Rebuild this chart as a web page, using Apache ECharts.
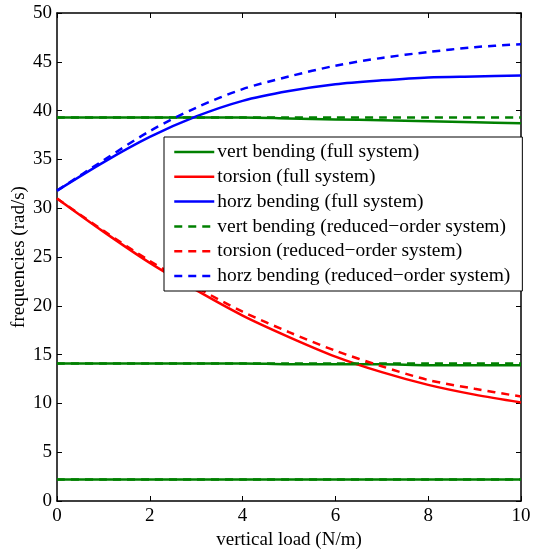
<!DOCTYPE html>
<html>
<head>
<meta charset="utf-8">
<script src="https://cdn.jsdelivr.net/npm/echarts@6/dist/echarts.min.js"></script>
<style>
html, body { margin: 0; padding: 0; background: #fff; }
#chart { width: 533px; height: 552px; }
</style>
</head>
<body>
<div id="chart"></div>
<script>
// vertical load (N/m)
var load = [0, 1, 2, 3, 4, 5, 6, 7, 8, 9, 10];

// full system
var vert1_full = [39.3, 39.3, 39.3, 39.3, 39.3, 39.2, 39.1, 39.0, 38.9, 38.8, 38.7];
var vert2_full = [14.1, 14.1, 14.1, 14.1, 14.1, 14.0, 14.0, 14.0, 13.9, 13.9, 13.9];
var vert3_full = [2.2, 2.2, 2.2, 2.2, 2.2, 2.2, 2.2, 2.2, 2.2, 2.2, 2.2];
var torsion_full = [31.0, 27.6, 24.4, 21.6, 19.0, 16.8, 14.8, 13.2, 11.9, 10.9, 10.1];
var horz_full = [31.8, 34.7, 37.3, 39.4, 41.0, 42.0, 42.7, 43.1, 43.4, 43.5, 43.6];

// reduced-order system
var vert1_red = [39.3, 39.3, 39.3, 39.3, 39.3, 39.3, 39.3, 39.3, 39.3, 39.3, 39.3];
var vert2_red = [14.1, 14.1, 14.1, 14.1, 14.1, 14.1, 14.1, 14.1, 14.1, 14.1, 14.1];
var vert3_red = [2.2, 2.2, 2.2, 2.2, 2.2, 2.2, 2.2, 2.2, 2.2, 2.2, 2.2];
var torsion_red = [31.0, 27.7, 24.6, 21.9, 19.4, 17.3, 15.4, 13.8, 12.4, 11.5, 10.7];
var horz_red = [31.8, 34.9, 37.9, 40.3, 42.2, 43.5, 44.6, 45.4, 46.0, 46.5, 46.8];

var names = [
    'vert bending (full system)',
    'torsion (full system)',
    'horz bending (full system)',
    'vert bending (reduced\u2212order system)',
    'torsion (reduced\u2212order system)',
    'horz bending (reduced\u2212order system)'
];

var font = 'Liberation Serif';
var fsize = 19;

function pairs(ys) {
    var out = [];
    for (var i = 0; i < load.length; i++) {
        out.push([load[i], ys[i]]);
    }
    return out;
}

function line(name, ys, color, dashed) {
    return {
        name: name,
        type: 'line',
        data: pairs(ys),
        smooth: 0.3,
        showSymbol: false,
        symbol: 'none',
        animation: false,
        lineStyle: { color: color, width: 2.5, type: dashed ? [8, 6] : 'solid' },
        itemStyle: { color: color }
    };
}

var chart = echarts.init(document.getElementById('chart'));

var axisCommon = {
    type: 'value',
    axisLine: { show: true, onZero: false, lineStyle: { color: '#000', width: 1.5 } },
    axisTick: { show: true, inside: true, length: 5, lineStyle: { color: '#000' } },
    splitLine: { show: false }
};

var option = {
    backgroundColor: '#fff',
    animation: false,
    grid: { left: 57, right: 12, top: 13, bottom: 51, containLabel: false, outerBoundsMode: 'none' },
    legend: {
        data: names,
        orient: 'vertical',
        left: 164,
        top: 137,
        padding: [5, 12, 5, 9],
        itemGap: 4.8,
        itemWidth: 40,
        itemHeight: 19,
        itemStyle: { opacity: 0 },
        lineStyle: { width: 2.5 },
        backgroundColor: '#fff',
        borderColor: '#000',
        borderWidth: 1,
        borderRadius: 0,
        selectedMode: false,
        textStyle: { fontFamily: font, fontSize: 19.5, color: '#000', padding: [0, 0, 0, -2] }
    },
    xAxis: [
        Object.assign({}, axisCommon, {
            min: 0, max: 10, interval: 2,
            position: 'bottom',
            name: 'vertical load (N/m)',
            nameLocation: 'middle',
            nameGap: 30,
            nameMoveOverlap: false,
            nameTextStyle: { fontFamily: font, fontSize: fsize, color: '#000' },
            axisLabel: { fontFamily: font, fontSize: fsize, color: '#000', margin: 6 }
        }),
        Object.assign({}, axisCommon, {
            min: 0, max: 10, interval: 2,
            position: 'top',
            axisLabel: { show: false }
        })
    ],
    yAxis: [
        Object.assign({}, axisCommon, {
            min: 0, max: 50, interval: 5,
            position: 'left',
            name: 'frequencies (rad/s)',
            nameLocation: 'middle',
            nameGap: 28,
            nameMoveOverlap: false,
            nameTextStyle: { fontFamily: font, fontSize: fsize, color: '#000' },
            axisLabel: { fontFamily: font, fontSize: fsize, color: '#000', margin: 5 }
        }),
        Object.assign({}, axisCommon, {
            min: 0, max: 50, interval: 5,
            position: 'right',
            axisLabel: { show: false }
        })
    ],
    series: [
        line(names[0], vert1_full, '#008000', false),
        line(names[0], vert2_full, '#008000', false),
        line(names[0], vert3_full, '#008000', false),
        line(names[1], torsion_full, '#ff0000', false),
        line(names[2], horz_full, '#0000ff', false),
        line(names[3], vert1_red, '#008000', true),
        line(names[3], vert2_red, '#008000', true),
        line(names[3], vert3_red, '#008000', true),
        line(names[4], torsion_red, '#ff0000', true),
        line(names[5], horz_red, '#0000ff', true)
    ]
};

chart.setOption(option);
</script>
</body>
</html>
